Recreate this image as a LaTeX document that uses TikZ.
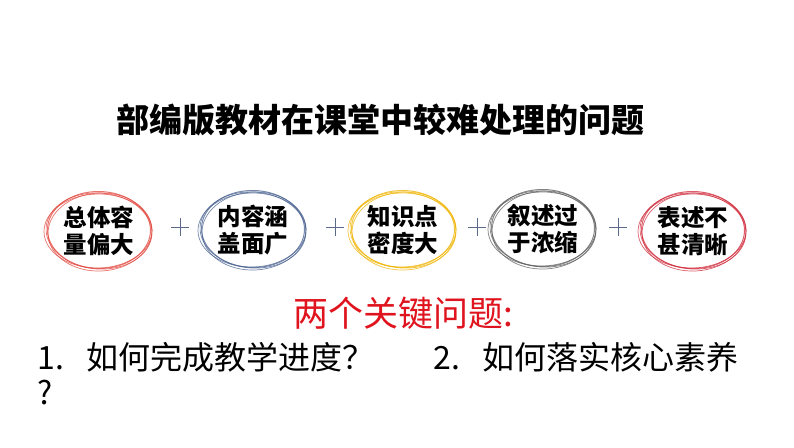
\documentclass[tikz,border=0pt]{standalone}
\usepackage{fontspec}
\newfontfamily\cjk{Noto Sans CJK SC}
\definecolor{cred}{HTML}{E2473F}
\definecolor{cblue}{HTML}{4A6290}
\definecolor{cgold}{HTML}{F0B400}
\definecolor{cgrey}{HTML}{5E5E5E}
\definecolor{cred2}{HTML}{D02A3A}
\definecolor{cplus}{HTML}{5A6A88}
\definecolor{ttl}{HTML}{E0141E}
\tikzset{
  box/.style={inner sep=0pt, align=center, font=\cjk\bfseries\fontsize{23.5}{26.5}\selectfont},
  sk/.style={line width=0.7pt, opacity=0.75},
  plusmark/.style={minimum size=17pt, inner sep=0pt},
  plusline/.style={draw=cplus, line width=0.8pt},
  qtext/.style={anchor=west, font=\cjk\fontsize{32}{36}\selectfont},
}
\newcommand{\sketchy}[2]{%
  \draw[sk,#2] (#1) ellipse [x radius=53pt, y radius=38pt, rotate=-4];
  \draw[sk,#2] ([xshift=1pt,yshift=-1pt]#1) ellipse [x radius=52pt, y radius=39pt, rotate=3];
  \draw[sk,#2] ([xshift=-1pt]#1) ellipse [x radius=54pt, y radius=37pt, rotate=1];
  \draw[sk,#2,line width=1pt] ([yshift=1pt]#1) ellipse [x radius=51.5pt, y radius=38.5pt, rotate=-1];
}
\begin{document}
\begin{tikzpicture}[x=1pt,y=-1pt]
\useasboundingbox[fill=white] (0,0) rectangle (794,447);
\node[font=\cjk\bfseries\fontsize{33}{36}\selectfont] (title) at (380,120) {部编版教材在课堂中较难处理的问题};

\node[box] (e1) at (99,231) {总体容\\量偏大};
\node[box] (e2) at (253,230) {内容涵\\盖面广};
\node[box] (e3) at (403,230) {知识点\\密度大};
\node[box] (e4) at (543,229) {叙述过\\于浓缩};
\node[box] (e5) at (693,231) {表述不\\甚清晰};
\sketchy{e1}{draw=cred}
\sketchy{e2}{draw=cblue}
\sketchy{e3}{draw=cgold}
\sketchy{e4}{draw=cgrey}
\sketchy{e5}{draw=cred2}

\foreach \n/\x in {p1/180,p2/335,p3/477,p4/618}{
  \node[plusmark] (\n) at (\x,227) {};
  \draw[plusline] (\n.north) -- (\n.south);
  \draw[plusline] (\n.west) -- (\n.east);
}

\node[anchor=west, text=ttl, font=\cjk\fontsize{35}{38}\selectfont] (q) at (290,313) {两个关键问题:};
\node[qtext] (q1) at (34,357) {1.\hspace{22pt}如何完成教学进度？};
\node[qtext] (q2) at (430,357) {2.\hspace{22pt}如何落实核心素养};
\node[qtext] (q3) at (34,393) {?};
\end{tikzpicture}
\end{document}
